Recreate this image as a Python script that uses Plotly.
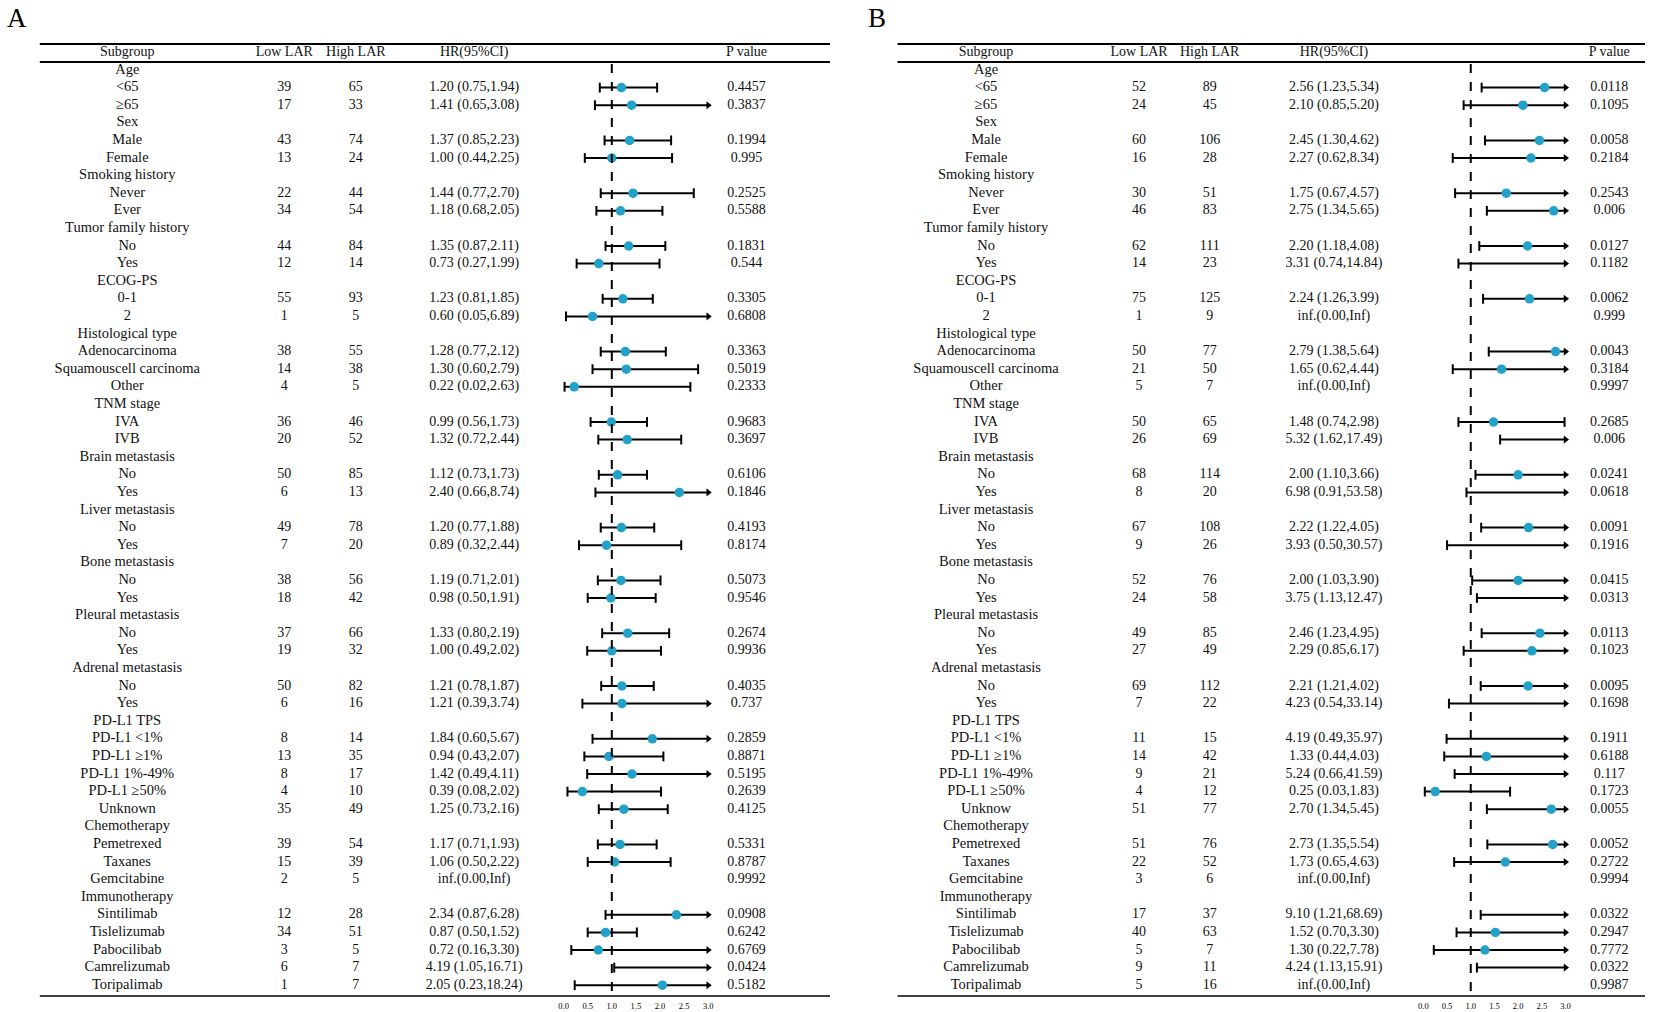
import plotly.graph_objects as go

# ---------------- data ----------------
group_names = ["Age", "Sex", "Smoking history", "Tumor family history", "ECOG-PS",
               "Histological type", "TNM stage", "Brain metastasis", "Liver metastasis",
               "Bone metastasis", "Pleural metastasis", "Adrenal metastasis", "PD-L1 TPS",
               "Chemotherapy", "Immunotherapy"]
group_items_A = [["<65", "≥65"], ["Male", "Female"], ["Never", "Ever"], ["No", "Yes"],
                 ["0-1", "2"], ["Adenocarcinoma", "Squamouscell carcinoma", "Other"],
                 ["IVA", "IVB"], ["No", "Yes"], ["No", "Yes"], ["No", "Yes"], ["No", "Yes"],
                 ["No", "Yes"],
                 ["PD-L1 <1%", "PD-L1 ≥1%", "PD-L1 1%-49%", "PD-L1 ≥50%", "Unknown"],
                 ["Pemetrexed", "Taxanes", "Gemcitabine"],
                 ["Sintilimab", "Tislelizumab", "Pabocilibab", "Camrelizumab", "Toripalimab"]]
group_items_B = [list(g) for g in group_items_A]
group_items_B[12][4] = "Unknow"

low_A = [39, 17, 43, 13, 22, 34, 44, 12, 55, 1, 38, 14, 4, 36, 20, 50, 6, 49, 7, 38, 18,
         37, 19, 50, 6, 8, 13, 8, 4, 35, 39, 15, 2, 12, 34, 3, 6, 1]
high_A = [65, 33, 74, 24, 44, 54, 84, 14, 93, 5, 55, 38, 5, 46, 52, 85, 13, 78, 20, 56, 42,
          66, 32, 82, 16, 14, 35, 17, 10, 49, 54, 39, 5, 28, 51, 5, 7, 7]
hr_A = [1.20, 1.41, 1.37, 1.00, 1.44, 1.18, 1.35, 0.73, 1.23, 0.60, 1.28, 1.30, 0.22, 0.99,
        1.32, 1.12, 2.40, 1.20, 0.89, 1.19, 0.98, 1.33, 1.00, 1.21, 1.21, 1.84, 0.94, 1.42,
        0.39, 1.25, 1.17, 1.06, None, 2.34, 0.87, 0.72, 4.19, 2.05]
lo_A = [0.75, 0.65, 0.85, 0.44, 0.77, 0.68, 0.87, 0.27, 0.81, 0.05, 0.77, 0.60, 0.02, 0.56,
        0.72, 0.73, 0.66, 0.77, 0.32, 0.71, 0.50, 0.80, 0.49, 0.78, 0.39, 0.60, 0.43, 0.49,
        0.08, 0.73, 0.71, 0.50, None, 0.87, 0.50, 0.16, 1.05, 0.23]
hi_A = [1.94, 3.08, 2.23, 2.25, 2.70, 2.05, 2.11, 1.99, 1.85, 6.89, 2.12, 2.79, 2.63, 1.73,
        2.44, 1.73, 8.74, 1.88, 2.44, 2.01, 1.91, 2.19, 2.02, 1.87, 3.74, 5.67, 2.07, 4.11,
        2.02, 2.16, 1.93, 2.22, None, 6.28, 1.52, 3.30, 16.71, 18.24]
p_A = ["0.4457", "0.3837", "0.1994", "0.995", "0.2525", "0.5588", "0.1831", "0.544",
       "0.3305", "0.6808", "0.3363", "0.5019", "0.2333", "0.9683", "0.3697", "0.6106",
       "0.1846", "0.4193", "0.8174", "0.5073", "0.9546", "0.2674", "0.9936", "0.4035",
       "0.737", "0.2859", "0.8871", "0.5195", "0.2639", "0.4125", "0.5331", "0.8787",
       "0.9992", "0.0908", "0.6242", "0.6769", "0.0424", "0.5182"]

low_B = [52, 24, 60, 16, 30, 46, 62, 14, 75, 1, 50, 21, 5, 50, 26, 68, 8, 67, 9, 52, 24,
         49, 27, 69, 7, 11, 14, 9, 4, 51, 51, 22, 3, 17, 40, 5, 9, 5]
high_B = [89, 45, 106, 28, 51, 83, 111, 23, 125, 9, 77, 50, 7, 65, 69, 114, 20, 108, 26, 76,
          58, 85, 49, 112, 22, 15, 42, 21, 12, 77, 76, 52, 6, 37, 63, 7, 11, 16]
hr_B = [2.56, 2.10, 2.45, 2.27, 1.75, 2.75, 2.20, 3.31, 2.24, None, 2.79, 1.65, None, 1.48,
        5.32, 2.00, 6.98, 2.22, 3.93, 2.00, 3.75, 2.46, 2.29, 2.21, 4.23, 4.19, 1.33, 5.24,
        0.25, 2.70, 2.73, 1.73, None, 9.10, 1.52, 1.30, 4.24, None]
lo_B = [1.23, 0.85, 1.30, 0.62, 0.67, 1.34, 1.18, 0.74, 1.26, None, 1.38, 0.62, None, 0.74,
        1.62, 1.10, 0.91, 1.22, 0.50, 1.03, 1.13, 1.23, 0.85, 1.21, 0.54, 0.49, 0.44, 0.66,
        0.03, 1.34, 1.35, 0.65, None, 1.21, 0.70, 0.22, 1.13, None]
hi_B = [5.34, 5.20, 4.62, 8.34, 4.57, 5.65, 4.08, 14.84, 3.99, None, 5.64, 4.44, None, 2.98,
        17.49, 3.66, 53.58, 4.05, 30.57, 3.90, 12.47, 4.95, 6.17, 4.02, 33.14, 35.97, 4.03,
        41.59, 1.83, 5.45, 5.54, 4.63, None, 68.69, 3.30, 7.78, 15.91, None]
p_B = ["0.0118", "0.1095", "0.0058", "0.2184", "0.2543", "0.006", "0.0127", "0.1182",
       "0.0062", "0.999", "0.0043", "0.3184", "0.9997", "0.2685", "0.006", "0.0241",
       "0.0618", "0.0091", "0.1916", "0.0415", "0.0313", "0.0113", "0.1023", "0.0095",
       "0.1698", "0.1911", "0.6188", "0.117", "0.1723", "0.0055", "0.0052", "0.2722",
       "0.9994", "0.0322", "0.2947", "0.7772", "0.0322", "0.9987"]

header_labels = ["Subgroup", "Low LAR", "High LAR", "HR(95%CI)", "P value"]
tick_vals = [0, 0.5, 1.0, 1.5, 2.0, 2.5, 3.0]
tick_text = ["0.0", "0.5", "1.0", "1.5", "2.0", "2.5", "3.0"]

# ---------------- layout constants ----------------
W, H = 1654, 1012
ROW0_PX, ROW_H = 70.0, 17.6
FONT = "Liberation Serif"
DOT = "#22a2c8"
XMAX = 3.0

def row_of_px(py):
    return 1 + (py - ROW0_PX) / ROW_H

panels = [
    dict(name="A", items=group_items_A, low=low_A, high=high_A, hr=hr_A, lo=lo_A, hi=hi_A,
         p=p_A, cols=[123, 281, 353, 472, 746], left=35, right=830, x0=562, x3=707.5,
         letter_x=12, axis="x2"),
    dict(name="B", items=group_items_B, low=low_B, high=high_B, hr=hr_B, lo=lo_B, hi=hi_B,
         p=p_B, cols=[987, 1141, 1212, 1337, 1614], left=898, right=1650, x0=1427, x3=1570,
         letter_x=877, axis="x3"),
]

fig = go.Figure()
shapes = []
annotations = []

for pn in panels:
    sub_rows, sub_text, item_rows = [], [], []
    r = 1
    for g, items in zip(group_names, pn["items"]):
        sub_rows.append(r); sub_text.append(g); r += 1
        for it in items:
            sub_rows.append(r); sub_text.append(it); item_rows.append(r); r += 1

    hr_text = []
    for h, l, u in zip(pn["hr"], pn["lo"], pn["hi"]):
        if h is None:
            hr_text.append("inf.(0.00,Inf)")
        else:
            hr_text.append(f"{h:.2f} ({l:.2f},{u:.2f})")

    tf = dict(family=FONT, size=14, color="#111111")
    tf_sub = dict(family=FONT, size=14.5, color="#111111")
    c = pn["cols"]
    fig.add_trace(go.Scatter(x=[c[0]] * len(sub_rows), y=sub_rows, text=sub_text, mode="text",
                             textfont=tf_sub, xaxis="x", yaxis="y", hoverinfo="skip",
                             showlegend=False))
    for col, vals in zip(c[1:], [pn["low"], pn["high"], hr_text, pn["p"]]):
        fig.add_trace(go.Scatter(x=[col] * len(item_rows), y=item_rows,
                                 text=[str(v) for v in vals], mode="text", textfont=tf,
                                 xaxis="x", yaxis="y", hoverinfo="skip", showlegend=False))
    fig.add_trace(go.Scatter(x=c, y=[0] * 5, text=header_labels, mode="text", textfont=tf,
                             xaxis="x", yaxis="y", hoverinfo="skip", showlegend=False))

    lx, ly, capx, capy, arx, ary, dx, dy = [], [], [], [], [], [], [], []
    for rr, h, l, u in zip(item_rows, pn["hr"], pn["lo"], pn["hi"]):
        if h is None:
            continue
        lx += [l, min(u, XMAX), None]; ly += [rr, rr, None]
        capx.append(l); capy.append(rr)
        if u <= XMAX:
            capx.append(u); capy.append(rr)
        else:
            arx.append(XMAX); ary.append(rr)
        if h <= XMAX:
            dx.append(h); dy.append(rr)
    ax = pn["axis"]
    fig.add_trace(go.Scatter(x=lx, y=ly, mode="lines", line=dict(color="black", width=2),
                             xaxis=ax, yaxis="y", hoverinfo="skip", showlegend=False,
                             cliponaxis=False))
    fig.add_trace(go.Scatter(x=capx, y=capy, mode="markers",
                             marker=dict(symbol="line-ns", size=7,
                                         line=dict(color="black", width=2)),
                             xaxis=ax, yaxis="y", hoverinfo="skip", showlegend=False,
                             cliponaxis=False))
    fig.add_trace(go.Scatter(x=arx, y=ary, mode="markers",
                             marker=dict(symbol="triangle-right", size=7, color="black"),
                             xaxis=ax, yaxis="y", hoverinfo="skip", showlegend=False,
                             cliponaxis=False))
    fig.add_trace(go.Scatter(x=dx, y=dy, mode="markers",
                             marker=dict(symbol="circle", size=9.5, color=DOT,
                                         line=dict(width=0)),
                             xaxis=ax, yaxis="y", hoverinfo="skip", showlegend=False,
                             cliponaxis=False))

    for py, w in [(44, 2.2), (62, 2.0), (996, 1.5)]:
        shapes.append(dict(type="line", xref="x", yref="y", x0=pn["left"], x1=pn["right"],
                           y0=row_of_px(py), y1=row_of_px(py), line=dict(color="black", width=w)))
    shapes.append(dict(type="line", xref=ax, yref="y", x0=1, x1=1,
                       y0=row_of_px(64), y1=row_of_px(996),
                       line=dict(color="black", width=2, dash="dash")))
    annotations.append(dict(text=pn["name"], x=pn["letter_x"] / W, y=1 - 18 / H,
                            xref="paper", yref="paper", showarrow=False,
                            font=dict(family=FONT, size=27, color="black"),
                            xanchor="center", yanchor="middle"))

axis_common = dict(range=[0, 3], tickvals=tick_vals, ticktext=tick_text, showgrid=False,
                   zeroline=False, showline=False, ticks="", ticklen=0,
                   tickfont=dict(family=FONT, size=8.5, color="black"), anchor="free",
                   position=1 - 999 / H, fixedrange=True)

fig.update_layout(
    width=W, height=H, margin=dict(l=0, r=0, t=0, b=0),
    paper_bgcolor="white", plot_bgcolor="rgba(0,0,0,0)",
    xaxis=dict(domain=[0, 1], range=[0, W], visible=False, fixedrange=True),
    xaxis2=dict(domain=[panels[0]["x0"] / W, panels[0]["x3"] / W], **axis_common),
    xaxis3=dict(domain=[panels[1]["x0"] / W, panels[1]["x3"] / W], **axis_common),
    yaxis=dict(domain=[0, 1], range=[row_of_px(H), row_of_px(0)], visible=False,
               fixedrange=True),
    shapes=shapes, annotations=annotations, showlegend=False,
)

fig.write_html("out.html", config={"displayModeBar": False},
               post_script="document.body.style.margin='0';document.body.style.overflow='hidden';")
